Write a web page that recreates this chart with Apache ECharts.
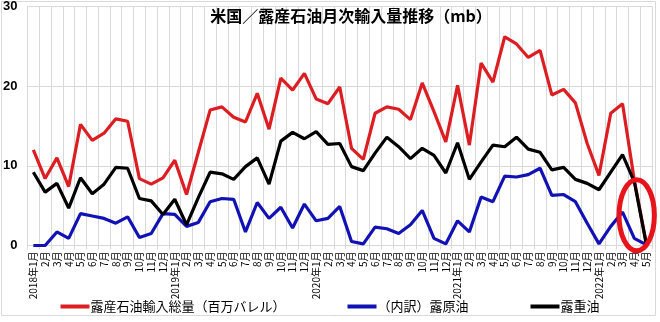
<!DOCTYPE html>
<html>
<head>
<meta charset="utf-8">
<script src="https://cdn.jsdelivr.net/npm/echarts@6/dist/echarts.min.js"></script>
<style>
  html, body { margin: 0; padding: 0; background: #fff; }
  #chart { width: 660px; height: 322px; }
</style>
</head>
<body>
<div id="chart"></div>
<script>
// Month labels, 2018年1月 – 2022年5月
const months = [
  '2018年1月','2月','3月','4月','5月','6月','7月','8月','9月','10月','11月','12月',
  '2019年1月','2月','3月','4月','5月','6月','7月','8月','9月','10月','11月','12月',
  '2020年1月','2月','3月','4月','5月','6月','7月','8月','9月','10月','11月','12月',
  '2021年1月','2月','3月','4月','5月','6月','7月','8月','9月','10月','11月','12月',
  '2022年1月','2月','3月','4月','5月'
];

// 露産石油輸入総量（百万バレル）
const totalImports = [
  12.0, 8.4, 11.0, 7.4, 15.2, 13.2, 14.1, 15.9, 15.6, 8.4, 7.7, 8.5,
  10.7, 6.4, 11.7, 17.0, 17.4, 16.1, 15.5, 19.1, 14.6, 21.0, 19.5, 21.6,
  18.4, 17.8, 19.9, 12.2, 10.8, 16.6, 17.4, 17.1, 15.8, 20.4, 16.8, 13.0,
  20.1, 12.6, 22.9, 20.5, 26.2, 25.3, 23.6, 24.5, 18.9, 19.6, 17.9, 12.8,
  8.8, 16.6, 17.8, 8.2, 0.4
];

// （内訳）露原油
const crudeImports = [
  0.0, 0.0, 1.7, 0.9, 4.0, 3.7, 3.4, 2.8, 3.6, 1.0, 1.5, 4.0,
  3.9, 2.4, 2.9, 5.5, 5.9, 5.8, 1.7, 5.4, 3.4, 4.8, 2.2, 5.2,
  3.1, 3.4, 4.9, 0.5, 0.2, 2.3, 2.1, 1.5, 2.6, 4.4, 0.9, 0.2,
  3.1, 1.7, 6.1, 5.5, 8.7, 8.6, 8.9, 9.7, 6.3, 6.4, 5.5, 2.8,
  0.2, 2.4, 4.2, 0.9, 0.1
];

// 露重油
const heavyOilImports = [
  9.2, 6.7, 7.8, 4.7, 8.5, 6.5, 7.7, 9.8, 9.7, 5.9, 5.6, 3.9,
  5.8, 2.6, 6.0, 9.2, 9.0, 8.3, 9.9, 11.0, 7.7, 13.1, 14.2, 13.4,
  14.3, 12.7, 12.8, 9.9, 9.4, 11.6, 13.6, 12.4, 10.9, 12.2, 11.3, 9.1,
  12.9, 8.3, 10.5, 12.6, 12.4, 13.6, 12.1, 11.7, 9.5, 9.8, 8.3, 7.8,
  7.0, 9.2, 11.4, 8.0, 0.3
];

const yTicks = [0, 10, 20, 30];

const gridColor = '#d9d9d9';
const jpFont = '"Noto Sans CJK JP", sans-serif';

const chart = echarts.init(document.getElementById('chart'), null, { renderer: 'canvas' });

chart.setOption({
  animation: false,
  backgroundColor: '#fff',
  title: {
    text: '米国／露産石油月次輸入量推移（mb）',
    left: 346,
    textAlign: 'center',
    top: 3,
    textStyle: { fontFamily: jpFont, fontSize: 16, fontWeight: 'bold', color: '#000' }
  },
  grid: { left: 26, right: 8, top: 6, bottom: 76.5, containLabel: false },
  xAxis: {
    type: 'category',
    data: months,
    boundaryGap: true,
    axisLine: { show: true, lineStyle: { color: gridColor, width: 1 } },
    axisTick: { show: true, interval: 0, length: 4, lineStyle: { color: gridColor } },
    splitLine: { show: true, interval: 0, lineStyle: { color: gridColor, width: 1 } },
    axisLabel: {
      interval: 0, rotate: 90, margin: 6,
      fontFamily: jpFont, fontSize: 10, color: '#000'
    }
  },
  yAxis: {
    type: 'value',
    min: yTicks[0], max: yTicks[yTicks.length - 1], interval: 10,
    axisLine: { show: true, lineStyle: { color: gridColor } },
    axisTick: { show: false },
    splitLine: { show: true, lineStyle: { color: gridColor, width: 1 } },
    axisLabel: {
      margin: 10,
      fontFamily: '"Liberation Sans", Arial, sans-serif',
      fontSize: 13, fontWeight: 'bold', color: '#000'
    }
  },
  legend: {
    bottom: 4,
    left: 'center',
    itemWidth: 29,
    itemHeight: 4,
    itemGap: 62,
    icon: 'rect',
    textStyle: { fontFamily: jpFont, fontSize: 13, color: '#000', padding: [0, 0, 0, -4] },
    data: ['露産石油輸入総量（百万バレル）', '（内訳）露原油', '露重油']
  },
  series: [
    {
      name: '露産石油輸入総量（百万バレル）',
      type: 'line',
      data: totalImports,
      symbol: 'none',
      color: '#dc1e22',
      lineStyle: { width: 3.2, color: '#dc1e22' },
      z: 2
    },
    {
      name: '（内訳）露原油',
      type: 'line',
      data: crudeImports,
      symbol: 'none',
      color: '#1212b4',
      lineStyle: { width: 3.2, color: '#1212b4' },
      z: 3
    },
    {
      name: '露重油',
      type: 'line',
      data: heavyOilImports,
      symbol: 'none',
      color: '#000000',
      lineStyle: { width: 3.2, color: '#000000' },
      z: 4
    }
  ]
});

// Outer frame and the highlight ellipse around the latest months
const p51 = chart.convertToPixel({ xAxisIndex: 0, yAxisIndex: 0 }, [51, 3.8]);
const p52 = chart.convertToPixel({ xAxisIndex: 0, yAxisIndex: 0 }, [52, 3.8]);
const pTop = chart.convertToPixel({ xAxisIndex: 0, yAxisIndex: 0 }, [51, 8.2]);
const band = p52[0] - p51[0];

chart.setOption({
  graphic: [
    {
      type: 'rect',
      shape: { x: 1.5, y: 1.5, width: 654, height: 314 },
      style: { fill: 'none', stroke: gridColor, lineWidth: 1 },
      silent: true,
      z: 0
    },
    {
      type: 'ellipse',
      shape: {
        cx: p51[0] + band * 0.2,
        cy: p51[1],
        rx: band * 1.5,
        ry: p51[1] - pTop[1] + 0.5
      },
      style: { fill: 'none', stroke: '#e8141c', lineWidth: 5 },
      silent: true,
      z: 100
    }
  ]
});
</script>
</body>
</html>
